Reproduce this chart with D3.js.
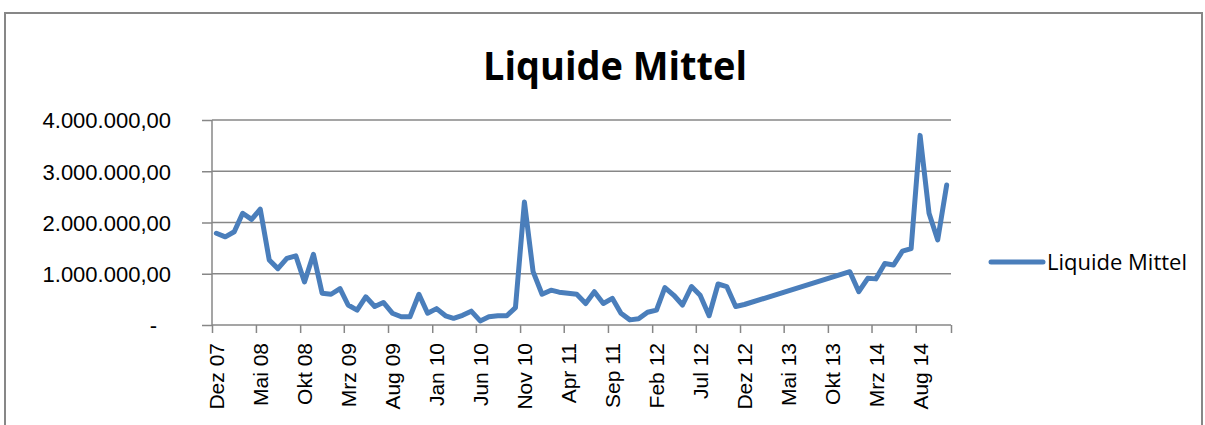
<!DOCTYPE html>
<html>
<head>
  <meta charset="utf-8"/>
  <style>
    body { margin: 0; background: #ffffff; }
    svg { display: block; }
    .axis text { font-family: "Liberation Sans", Arial, sans-serif; fill: #000; }
  </style>
</head>
<body>
  <div id="chart"></div>
  <script src="https://d3js.org/d3.v7.min.js"></script>
  <script>
    // months (yyyy-mm) with a value; Jan 13 - Nov 13 are missing in the source
    let months = [
      '2007-12',
      '2008-01', '2008-02', '2008-03', '2008-04', '2008-05', '2008-06',
      '2008-07', '2008-08', '2008-09', '2008-10', '2008-11', '2008-12',
      '2009-01', '2009-02', '2009-03', '2009-04', '2009-05', '2009-06',
      '2009-07', '2009-08', '2009-09', '2009-10', '2009-11', '2009-12',
      '2010-01', '2010-02', '2010-03', '2010-04', '2010-05', '2010-06',
      '2010-07', '2010-08', '2010-09', '2010-10', '2010-11', '2010-12',
      '2011-01', '2011-02', '2011-03', '2011-04', '2011-05', '2011-06',
      '2011-07', '2011-08', '2011-09', '2011-10', '2011-11', '2011-12',
      '2012-01', '2012-02', '2012-03', '2012-04', '2012-05', '2012-06',
      '2012-07', '2012-08', '2012-09', '2012-10', '2012-11', '2012-12',
      '2013-12',
      '2014-01', '2014-02', '2014-03', '2014-04', '2014-05', '2014-06',
      '2014-07', '2014-08', '2014-09', '2014-10', '2014-11'
    ];
    let liquideMittel = [
      1790000,
      1720000, 1820000, 2180000, 2060000, 2260000, 1270000,
      1100000, 1300000, 1350000, 840000, 1380000, 620000,
      600000, 710000, 390000, 290000, 550000, 360000,
      440000, 230000, 160000, 160000, 600000, 230000,
      320000, 180000, 130000, 190000, 270000, 80000,
      160000, 180000, 180000, 340000, 2400000, 1040000,
      600000, 680000, 640000, 620000, 600000, 420000,
      650000, 420000, 520000, 230000, 100000, 120000,
      250000, 290000, 730000, 580000, 390000, 750000,
      580000, 180000, 800000, 750000, 360000, 400000,
      1040000,
      650000, 910000, 900000, 1200000, 1170000, 1440000,
      1490000, 3700000, 2180000, 1660000, 2730000
    ];
    let monthNames = ['Jan', 'Feb', 'Mrz', 'Apr', 'Mai', 'Jun', 'Jul', 'Aug', 'Sep', 'Okt', 'Nov', 'Dez'];
    let yTicks = [0, 1000000, 2000000, 3000000, 4000000];
    let seriesName = 'Liquide Mittel';

    let width = 1205, height = 425;
    let plot = {left: 212, right: 951, top: 120, bottom: 325};
    let lineColor = '#4a7ebb';
    let gray = '#878787';

    let parseMonth = d3.timeParse('%Y-%m');
    let data = months.map((m, i) => ({date: d3.timeDay.offset(parseMonth(m), 15), value: liquideMittel[i]}));

    let start = parseMonth('2007-12'), end = parseMonth('2014-12');

    let svg = d3.select('#chart')
        .append('svg')
        .attr('width', width)
        .attr('height', height);

    // chart border
    svg.append('rect')
        .attr('x', 5).attr('y', 13)
        .attr('width', 1197).attr('height', 440)
        .attr('fill', 'white')
        .attr('stroke', gray)
        .attr('stroke-width', 2);

    let x = d3.scaleTime().domain([start, end]).range([plot.left, plot.right]);
    let y = d3.scaleLinear().domain([0, 4000000]).range([plot.bottom, plot.top]);

    let de = d3.formatLocale({decimal: ',', thousands: '.', grouping: [3], currency: ['', '']});
    let fmt = de.format(',.2f');

    // gridlines
    svg.append('g')
        .selectAll('line')
        .data(yTicks.slice(1))
        .enter()
        .append('line')
        .attr('x1', plot.left).attr('x2', plot.right)
        .attr('y1', d => y(d)).attr('y2', d => y(d))
        .attr('stroke', gray)
        .attr('stroke-width', 1.5);

    // y axis
    let yAxis = svg.append('g')
        .attr('class', 'axis')
        .attr('transform', 'translate(' + plot.left + ',0)')
        .call(d3.axisLeft(y).tickValues(yTicks).tickSize(10).tickPadding(31)
            .tickFormat(d => d === 0 ? '-' : fmt(d)));
    yAxis.selectAll('text').style('font-size', '22px').attr('dy', '0.36em');
    yAxis.selectAll('text').filter(d => d === 0).attr('x', -55);

    // x axis
    let xTickValues = d3.range(0, 85, 5).map(i => d3.timeMonth.offset(start, i));
    xTickValues.push(end);
    let xAxis = svg.append('g')
        .attr('class', 'axis')
        .attr('transform', 'translate(0,' + plot.bottom + ')')
        .call(d3.axisBottom(x).tickValues(xTickValues).tickSize(8)
            .tickFormat(d => +d === +end ? '' : monthNames[d.getMonth()] + ' ' + d3.timeFormat('%y')(d)));
    xAxis.selectAll('text')
        .style('font-size', '21px')
        .attr('text-anchor', 'end')
        .attr('transform', 'rotate(-90)')
        .attr('x', -18)
        .attr('y', 4)
        .attr('dy', '0.36em');

    svg.selectAll('.axis path, .axis line')
        .attr('stroke', gray)
        .attr('stroke-width', 1.5);
    svg.selectAll('.axis .domain').attr('d', null);
    svg.append('line')
        .attr('x1', plot.left).attr('x2', plot.left)
        .attr('y1', plot.top).attr('y2', plot.bottom)
        .attr('stroke', gray).attr('stroke-width', 1.5);
    svg.append('line')
        .attr('x1', plot.left).attr('x2', plot.right)
        .attr('y1', plot.bottom).attr('y2', plot.bottom)
        .attr('stroke', gray).attr('stroke-width', 1.5);

    // series line
    let line = d3.line()
        .x(d => x(d.date))
        .y(d => y(d.value));

    svg.append('path')
        .datum(data)
        .attr('d', line)
        .attr('fill', 'none')
        .attr('stroke', lineColor)
        .attr('stroke-width', 5)
        .attr('stroke-linejoin', 'round')
        .attr('stroke-linecap', 'round');

    // title
    svg.append('text')
        .attr('x', 615)
        .attr('y', 80)
        .attr('text-anchor', 'middle')
        .attr('textLength', 264)
        .attr('lengthAdjust', 'spacingAndGlyphs')
        .style('font-family', '"Open Sans", sans-serif')
        .style('font-weight', 'bold')
        .style('font-size', '40px')
        .text(seriesName);

    // legend
    let legend = svg.append('g').attr('transform', 'translate(991,262)');
    legend.append('line')
        .attr('x1', 0).attr('x2', 52)
        .attr('stroke', lineColor)
        .attr('stroke-width', 5)
        .attr('stroke-linecap', 'round');
    legend.append('text')
        .attr('x', 56)
        .attr('dy', '0.36em')
        .style('font-family', '"Open Sans", sans-serif')
        .style('font-size', '22px')
        .text(seriesName);
  </script>
</body>
</html>
